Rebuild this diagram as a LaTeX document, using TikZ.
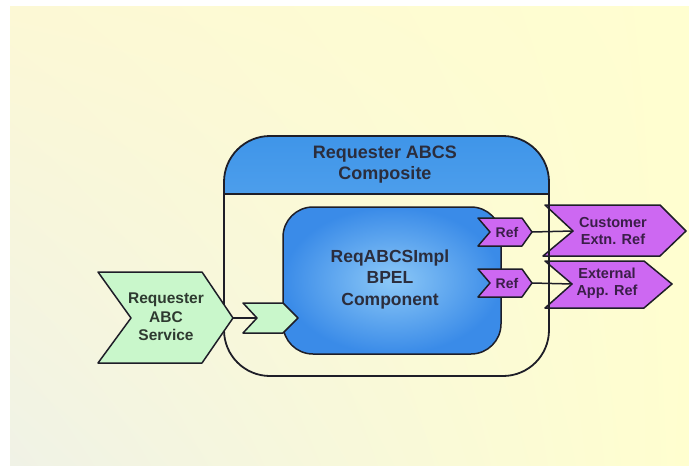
\documentclass[tikz,border=0pt]{standalone}
\usepackage{fontspec}
\setmainfont{Liberation Sans}
\usetikzlibrary{calc,shadings}
\definecolor{bgTL}{HTML}{FCF8D5}
\definecolor{bgTR}{HTML}{FFFED0}
\definecolor{bgBL}{HTML}{F0F2E6}
\definecolor{bgBR}{HTML}{FFFECF}
\definecolor{edge}{HTML}{1E1E28}
\definecolor{mint}{HTML}{C9F7CB}
\definecolor{violet}{HTML}{CD68F2}
\definecolor{blueD}{HTML}{3A8BE8}
\definecolor{blueL}{HTML}{8CC8F7}
\definecolor{hdrT}{HTML}{3F95E9}
\definecolor{hdrB}{HTML}{76BAF3}
\definecolor{txtB}{HTML}{2B2D3C}
\definecolor{txtG}{HTML}{2E3A30}
\definecolor{txtP}{HTML}{3A1E48}
\tikzset{
  edgeline/.style={draw=edge, line width=1.5pt, line join=round},
  mintshape/.style={edgeline, fill=mint},
  violetshape/.style={edgeline, fill=violet},
  conn/.style={draw=edge, line width=1.5pt},
  lbl/.style={align=center, font=\bfseries, inner sep=0pt},
}
\begin{document}
\begin{tikzpicture}[x=1pt, y=-1pt]
\useasboundingbox (0,0) rectangle (689,466);
\fill[white] (0,0) rectangle (689,466);
\shade[upper left=bgTL, upper right=bgTR, lower left=bgBL, lower right=bgBR] (10,6) rectangle (689,466);

% composite header
\begin{scope}
\clip (200,120) rectangle (560,194);
\shade[top color=hdrT, bottom color=hdrB, rounded corners=46]
  (224,250) -- (224,136) -- (549,136) -- (549,376) -- (224,376) -- cycle;
\end{scope}

% external purple references
\draw[violetshape] (545,205) -- (660,205) -- (686,231) -- (660,256) -- (543,256) -- (573,231) -- cycle;
\draw[violetshape] (545,261) -- (644,261) -- (672,284) -- (644,308) -- (545,308) -- (572,284) -- cycle;
\coordinate (custin) at (573,231);
\coordinate (extin) at (572,284);
\node[lbl, text=txtP, font=\bfseries\fontsize{14.5}{17}\selectfont] (cust) at (613,231) {Customer\\Extn. Ref};
\node[lbl, text=txtP, font=\bfseries\fontsize{14.5}{17}\selectfont] (ext) at (607,283) {External\\App. Ref};

% composite outline
\draw[edgeline, line width=1.8pt, rounded corners=46]
  (224,250) -- (224,136) -- (549,136) -- (549,376) -- (224,376) -- cycle;
\draw[edgeline, line width=1.8pt] (224,194) -- (549,194);
\node[lbl, text=txtB, font=\bfseries\fontsize{18}{21}\selectfont] (comp) at (385,165) {Requester ABCS\\Composite};

% BPEL component
\node[draw=edge, line width=1.5pt, rounded corners=30, shading=radial, inner color=blueL, outer color=blueD,
      minimum width=218pt, minimum height=147pt, inner sep=0pt] (bpel) at (392,280.5) {};
\node[lbl, text=txtB, font=\bfseries\fontsize{17.5}{21.5}\selectfont] (bpeltxt) at (390,279) {ReqABCSImpl\\BPEL\\Component};

% small service chevron
\draw[mintshape] (243,303) -- (283,303) -- (298,318) -- (283,333) -- (243,333) -- (257,318) -- cycle;
\coordinate (svcin) at (257,318);

% Ref chevrons
\draw[violetshape] (478,218) -- (522,218) -- (532,232) -- (522,246) -- (478,246) -- (490,232) -- cycle;
\draw[violetshape] (478,269) -- (522,269) -- (532,283) -- (522,297) -- (478,297) -- (490,283) -- cycle;
\coordinate (ref1out) at (532,232);
\coordinate (ref2out) at (532,283);
\node[lbl, text=txtP, font=\bfseries\fontsize{14}{16}\selectfont] (ref1) at (507,232) {Ref};
\node[lbl, text=txtP, font=\bfseries\fontsize{14}{16}\selectfont] (ref2) at (507,283) {Ref};

% Requester ABC Service
\draw[mintshape] (98,272) -- (202,272) -- (233,318) -- (202,363) -- (98,363) -- (131,318) -- cycle;
\coordinate (reqout) at (233,318);
\node[lbl, text=txtG, font=\bfseries\fontsize{15.5}{18.5}\selectfont] (req) at (166,317) {Requester\\ABC\\Service};

% connectors
\draw[conn] (reqout) -- (svcin);
\draw[conn] (ref1out) -- (custin);
\draw[conn] (ref2out) -- (extin);
\end{tikzpicture}
\end{document}
